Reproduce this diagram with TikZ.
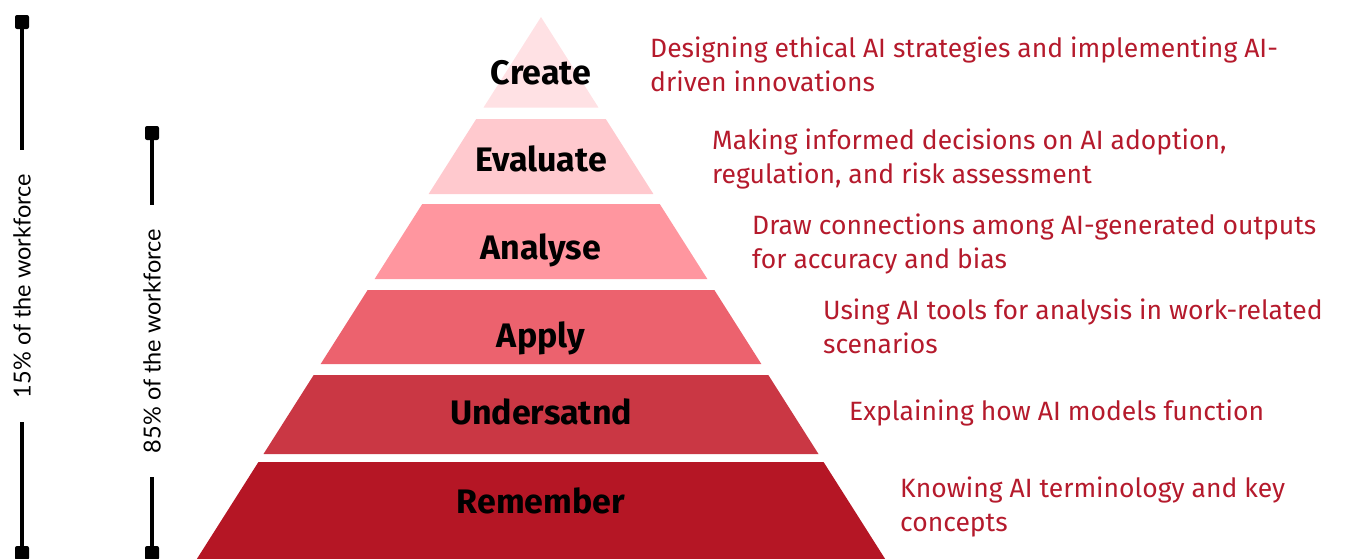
\documentclass[tikz,border=0pt]{standalone}
\usepackage{fontspec}
\setmainfont{Fira Sans}
\newfontfamily\labfont{Fira Sans Bold}
\newfontfamily\sidefont{Lato}
\definecolor{cCreate}{HTML}{FFE1E4}
\definecolor{cEval}{HTML}{FFC9CE}
\definecolor{cAnal}{HTML}{FF969F}
\definecolor{cApply}{HTML}{EC626E}
\definecolor{cUnder}{HTML}{CA3744}
\definecolor{cRem}{HTML}{B51625}
\definecolor{descred}{HTML}{B51A2C}
\tikzset{
  tierlabel/.style={font=\labfont\fontsize{34}{34}\selectfont, text=black, anchor=base, inner sep=0pt},
  desc/.style={font=\fontsize{26.5}{34}\selectfont, text=descred, anchor=base west, align=left, inner sep=0pt},
  capbox/.style={fill=black, rounded corners=2pt, minimum width=14pt, minimum height=14pt, inner sep=0pt},
  sidelabel/.style={font=\sidefont\fontsize{23.5}{23.5}\selectfont, rotate=90, inner xsep=24pt, inner ysep=2pt},
  barline/.style={line width=4pt, black},
}
\newcommand{\tierx}[1]{0.635*(#1-17)}
\begin{document}
\begin{tikzpicture}[x=1pt,y=-1pt]
\useasboundingbox (0,0) rectangle (1347,558);
% pyramid tiers
\fill[cCreate] (541,17) -- ({541+\tierx{107.5}},107.5) -- ({541-\tierx{107.5}},107.5) -- cycle;
\foreach \t/\b/\c in {119/194/cEval, 204/279/cAnal, 290/364/cApply, 375/454/cUnder, 462/562/cRem}{
  \fill[\c] ({541-\tierx{\t}},\t) -- ({541+\tierx{\t}},\t) -- ({541+\tierx{\b}},\b) -- ({541-\tierx{\b}},\b) -- cycle;
}
% tier labels
\node[tierlabel] (create) at (541,84) {Create};
\node[tierlabel] (evaluate) at (541,171) {Evaluate};
\node[tierlabel] (analyse) at (541,259) {Analyse};
\node[tierlabel] (apply) at (541,347) {Apply};
\node[tierlabel] (understand) at (541,424) {Undersatnd};
\node[tierlabel] (remember) at (541,513) {Remember};
% descriptions (anchor = baseline of last line)
\node[desc] (dcreate) at (650,91) {Designing ethical AI strategies and implementing AI-\\driven innovations};
\node[desc] (devaluate) at (712,183) {Making informed decisions on AI adoption,\\regulation, and risk assessment};
\node[desc] (danalyse) at (752,268) {Draw connections among AI-generated outputs\\for accuracy and bias};
\node[desc] (dapply) at (823,353) {Using AI tools for analysis in work-related\\scenarios};
\node[desc] (dunderstand) at (849,420) {Explaining how AI models function};
\node[desc] (dremember) at (900,531) {Knowing AI terminology and key\\concepts};
% left bars
\node[capbox] (capAt) at (22,22) {};
\node[capbox] (capAb) at (22,553) {};
\node[sidelabel] (labA) at (22,286) {15\% of the workforce};
\draw[barline] (capAt) -- (labA);
\draw[barline] (labA) -- (capAb);
\node[capbox] (capBt) at (152,133) {};
\node[capbox] (capBb) at (152,553) {};
\node[sidelabel] (labB) at (152,341) {85\% of the workforce};
\draw[barline] (capBt) -- (labB);
\draw[barline] (labB) -- (capBb);
\end{tikzpicture}
\end{document}
